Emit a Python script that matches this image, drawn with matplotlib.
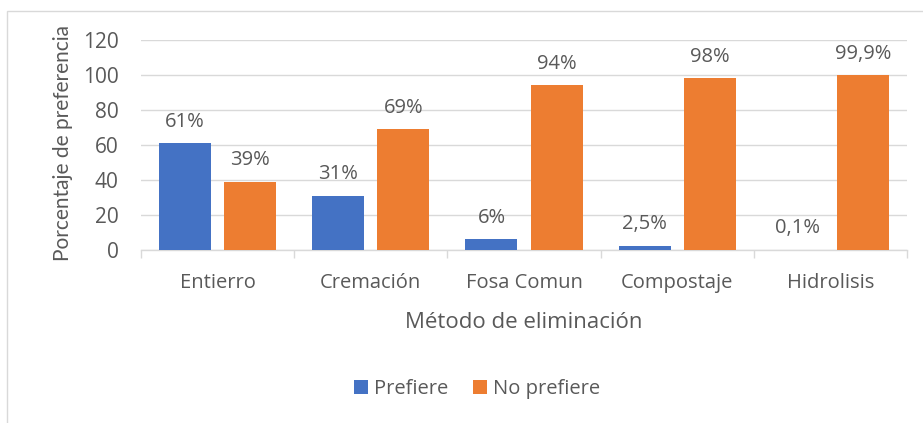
import numpy as np
import matplotlib.pyplot as plt
from matplotlib.patches import Rectangle

categorias = ["Entierro", "Cremación", "Fosa Comun", "Compostaje", "Hidrolisis"]
prefiere = [61, 31, 6, 2.5, 0.1]
no_prefiere = [39, 69, 94, 98, 99.9]
etiq_prefiere = ["61%", "31%", "6%", "2,5%", "0,1%"]
etiq_no_prefiere = ["39%", "69%", "94%", "98%", "99,9%"]

plt.rcParams['font.family'] = ['Open Sans', 'DejaVu Sans']
gris = '#595959'

fig = plt.figure(figsize=(9.23, 4.23), dpi=100)
ax = fig.add_axes([141/923, 1 - 250/423, (907 - 141)/923, 210/423])

x = np.arange(len(categorias))
w = 0.34
off = 0.2125
b1 = ax.bar(x - off, prefiere, w, color='#4472C4', label='Prefiere', zorder=3)
b2 = ax.bar(x + off, no_prefiere, w, color='#ED7D31', label='No prefiere', zorder=3)

for bars, labs in ((b1, etiq_prefiere), (b2, etiq_no_prefiere)):
    for rect, lab in zip(bars, labs):
        ax.annotate(lab, (rect.get_x() + rect.get_width()/2, rect.get_height()),
                    xytext=(0, 12), textcoords='offset points',
                    ha='center', va='baseline', fontsize=14.5, color=gris)

ax.set_xlim(-0.5, len(categorias) - 0.5)
ax.set_ylim(0, 120)
ax.set_yticks(range(0, 121, 20))
ax.yaxis.grid(True, color='#d9d9d9', linewidth=1, zorder=0)
ax.set_axisbelow(True)
for s in ['top', 'right', 'left']:
    ax.spines[s].set_visible(False)
ax.spines['bottom'].set_color('#d9d9d9')
ax.spines['bottom'].set_linewidth(1)

ax.set_xticks(x)
ax.set_xticklabels(categorias)
ax.tick_params(axis='x', length=0, labelsize=14.5, labelcolor=gris, pad=16.5)
ax.tick_params(axis='y', length=0, labelsize=15, labelcolor=gris, pad=16)
# separadores de categoria
ax.set_xticks(np.arange(-0.5, len(categorias)), minor=True)
ax.tick_params(axis='x', which='minor', length=6, color='#d9d9d9', width=1)

ax.set_xlabel("Método de eliminación", fontsize=16, color=gris, labelpad=14)
ax.set_ylabel("Porcentaje de preferencia", fontsize=15, color=gris,
              family=['Lato', 'DejaVu Sans'])
ax.yaxis.set_label_coords(-68/766, 0.51)

fig.legend(handles=[b1, b2], loc='center', bbox_to_anchor=(477/923, 1 - 389/423),
           ncol=2, frameon=False, fontsize=14.5, labelcolor=gris,
           handlelength=0.7, handleheight=0.7, handletextpad=0.3, columnspacing=1.25)

fig.patches.append(Rectangle((7/923, -0.1), 1.1, 1 - 11/423 + 0.1, transform=fig.transFigure,
                             fill=False, edgecolor='#d9d9d9', linewidth=1))

fig.savefig('out.png', dpi=100)
